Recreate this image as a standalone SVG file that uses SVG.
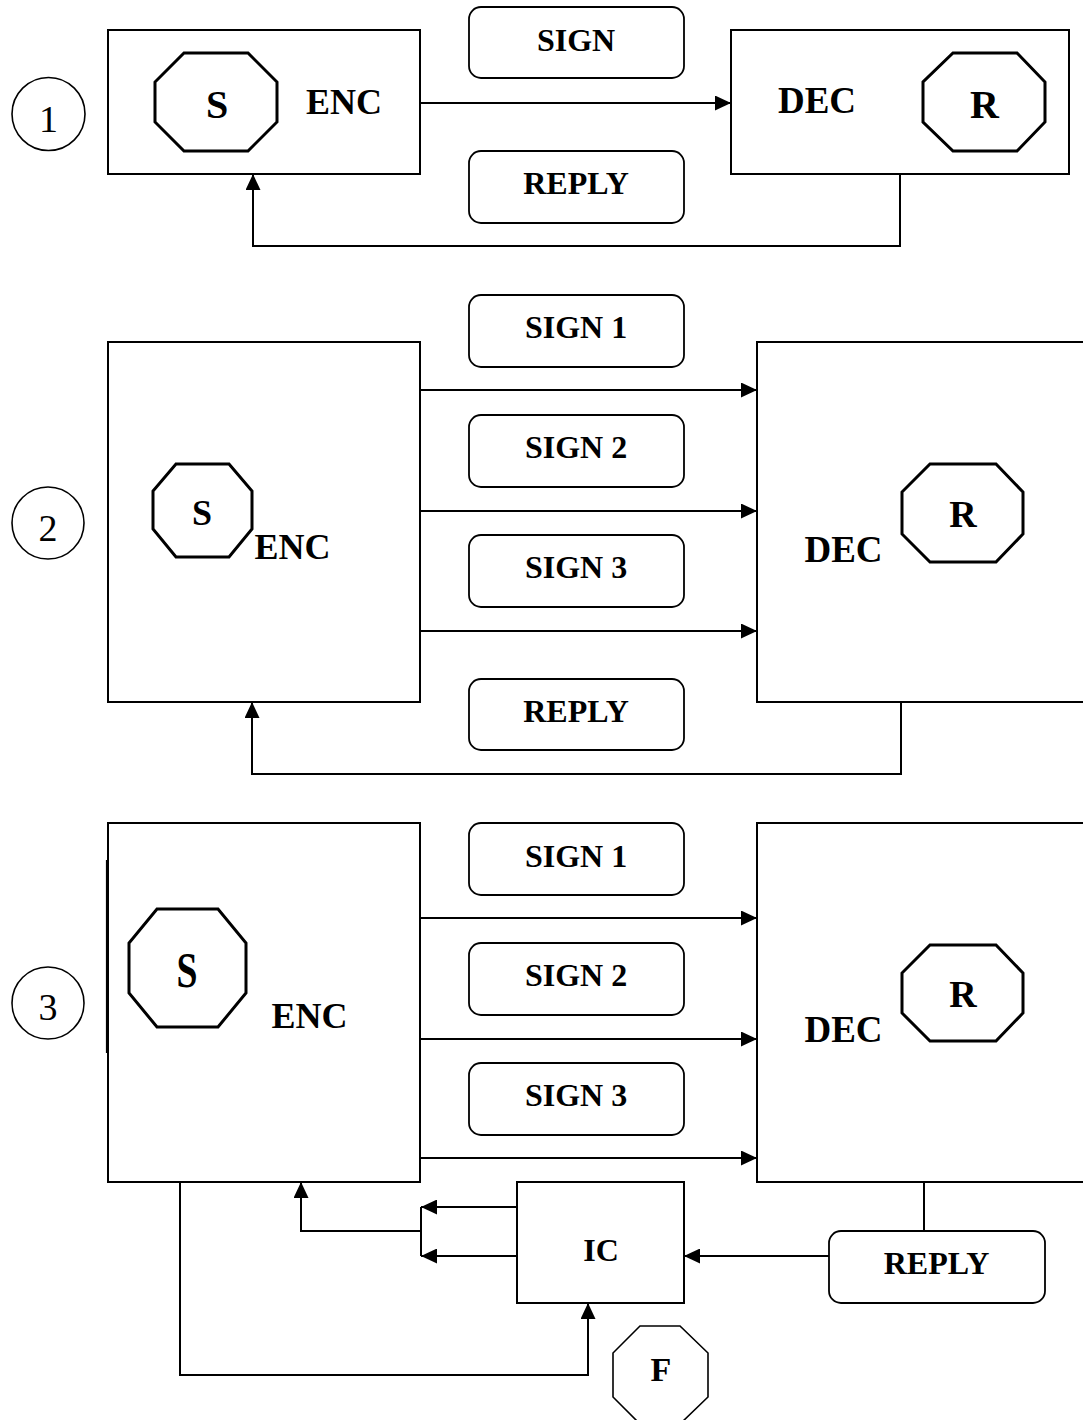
<svg xmlns="http://www.w3.org/2000/svg" width="1083" height="1420" viewBox="0 0 1083 1420">
  <style>
    .box { fill: #fff; stroke: #000; stroke-width: 2; }
    .pill { fill: #fff; stroke: #000; stroke-width: 1.8; }
    .oct { fill: #fff; stroke: #000; stroke-width: 3; stroke-linejoin: miter; }
    .octThin { fill: #fff; stroke: #000; stroke-width: 1.6; }
    .num { fill: #fff; stroke: #000; stroke-width: 1.6; }
    .wire { fill: none; stroke: #000; stroke-width: 2; }
    .lbl { font-family: "Liberation Serif", "Times New Roman", serif; font-weight: bold; fill: #000; text-anchor: middle; }
    .numtxt { font-family: "Liberation Serif", "Times New Roman", serif; font-weight: normal; fill: #000; text-anchor: middle; font-size: 38px; }
  </style>
  <defs>
    <marker id="arrow" markerUnits="userSpaceOnUse" markerWidth="16" markerHeight="15" refX="16" refY="7.5" orient="auto">
      <path d="M0,0 L16,7.5 L0,15 z" fill="#000"/>
    </marker>
  </defs>
  <rect width="1083" height="1420" fill="#fff"/>

  <!-- ===== Scheme 1 ===== -->
  <g id="label-1">
    <circle class="num" cx="48.5" cy="114" r="36.5"/>
    <text class="numtxt" x="48.5" y="132">1</text>
  </g>
  <g id="enc-1">
    <rect class="box" x="108" y="30" width="312" height="144"/>
    <polygon class="oct" points="184,53 248,53 277,82 277,122 248,151 184,151 155,122 155,82"/>
    <text class="lbl" x="217" y="118" font-size="40">S</text>
    <text class="lbl" x="344" y="114" font-size="36">ENC</text>
  </g>
  <g id="sign-1">
    <rect class="pill" x="469" y="7" width="215" height="71" rx="12"/>
    <text class="lbl" x="576" y="51" font-size="32">SIGN</text>
  </g>
  <g id="reply-1">
    <rect class="pill" x="469" y="151" width="215" height="72" rx="12"/>
    <text class="lbl" x="576" y="194" font-size="32">REPLY</text>
  </g>
  <g id="dec-1">
    <rect class="box" x="731" y="30" width="338" height="144"/>
    <text class="lbl" x="817" y="113" font-size="37">DEC</text>
    <polygon class="oct" points="953,53 1017,53 1045,82 1045,122 1017,151 953,151 923,122 923,82"/>
    <text class="lbl" x="984.5" y="118" font-size="40">R</text>
  </g>

  <!-- ===== Scheme 2 ===== -->
  <g id="label-2">
    <circle class="num" cx="48" cy="523" r="36"/>
    <text class="numtxt" x="48" y="541">2</text>
  </g>
  <g id="enc-2">
    <rect class="box" x="108" y="342" width="312" height="360"/>
    <polygon class="oct" points="176,464 229,464 252,491 252,529 229,557 176,557 153,529 153,491"/>
    <text class="lbl" x="202" y="525" font-size="36">S</text>
    <text class="lbl" x="292.5" y="559" font-size="36">ENC</text>
  </g>
  <g id="sign1-2">
    <rect class="pill" x="469" y="295" width="215" height="72" rx="12"/>
    <text class="lbl" x="576" y="338" font-size="32">SIGN 1</text>
  </g>
  <g id="sign2-2">
    <rect class="pill" x="469" y="415" width="215" height="72" rx="12"/>
    <text class="lbl" x="576" y="458" font-size="32">SIGN 2</text>
  </g>
  <g id="sign3-2">
    <rect class="pill" x="469" y="535" width="215" height="72" rx="12"/>
    <text class="lbl" x="576" y="578" font-size="32">SIGN 3</text>
  </g>
  <g id="reply-2">
    <rect class="pill" x="469" y="679" width="215" height="71" rx="12"/>
    <text class="lbl" x="576" y="722" font-size="32">REPLY</text>
  </g>
  <g id="dec-2">
    <rect class="box" x="757" y="342" width="340" height="360"/>
    <text class="lbl" x="843.5" y="562" font-size="37">DEC</text>
    <polygon class="oct" points="930,464 996,464 1023,492 1023,534 996,562 930,562 902,534 902,492"/>
    <text class="lbl" x="963" y="527" font-size="38">R</text>
  </g>

  <!-- ===== Scheme 3 ===== -->
  <g id="label-3">
    <circle class="num" cx="48" cy="1003" r="36"/>
    <text class="numtxt" x="48" y="1020">3</text>
  </g>
  <g id="enc-3">
    <rect class="box" x="108" y="823" width="312" height="359"/>
    <line x1="106.5" y1="860" x2="106.5" y2="1053" stroke="#000" stroke-width="1.2"/>
    <polygon class="oct" points="157,909 218,909 246,943 246,993 218,1027 157,1027 129,993 129,943"/>
    <text class="lbl" x="187" y="987" font-size="50" textLength="21" lengthAdjust="spacingAndGlyphs">S</text>
    <text class="lbl" x="309.5" y="1028" font-size="36">ENC</text>
  </g>
  <g id="sign1-3">
    <rect class="pill" x="469" y="823" width="215" height="72" rx="12"/>
    <text class="lbl" x="576" y="867" font-size="32">SIGN 1</text>
  </g>
  <g id="sign2-3">
    <rect class="pill" x="469" y="943" width="215" height="72" rx="12"/>
    <text class="lbl" x="576" y="986" font-size="32">SIGN 2</text>
  </g>
  <g id="sign3-3">
    <rect class="pill" x="469" y="1063" width="215" height="72" rx="12"/>
    <text class="lbl" x="576" y="1106" font-size="32">SIGN 3</text>
  </g>
  <g id="dec-3">
    <rect class="box" x="757" y="823" width="340" height="359"/>
    <text class="lbl" x="843.5" y="1042" font-size="37">DEC</text>
    <polygon class="oct" points="930,945 996,945 1023,973 1023,1013 996,1041 930,1041 902,1013 902,973"/>
    <text class="lbl" x="963" y="1007" font-size="38">R</text>
  </g>
  <g id="ic-3">
    <rect class="box" x="517" y="1182" width="167" height="121"/>
    <text class="lbl" x="601" y="1261" font-size="32">IC</text>
  </g>
  <g id="reply-3">
    <rect class="pill" x="829" y="1231" width="216" height="72" rx="12"/>
    <text class="lbl" x="936.5" y="1274" font-size="32">REPLY</text>
  </g>
  <g id="f-3">
    <polygon class="octThin" points="640,1326 680,1326 708,1353 708,1397 680,1424 640,1424 613,1397 613,1353"/>
    <text class="lbl" x="661" y="1381" font-size="34">F</text>
  </g>

  <!-- ===== Connectors ===== -->
  <g id="connectors" class="wire">
    <!-- scheme 1 -->
    <line x1="420" y1="103" x2="731" y2="103" marker-end="url(#arrow)"/>
    <path d="M900,174 V246 H253 V174" marker-end="url(#arrow)"/>
    <!-- scheme 2 -->
    <line x1="420" y1="390" x2="757" y2="390" marker-end="url(#arrow)"/>
    <line x1="420" y1="511" x2="757" y2="511" marker-end="url(#arrow)"/>
    <line x1="420" y1="631" x2="757" y2="631" marker-end="url(#arrow)"/>
    <path d="M901,702 V774 H252 V702" marker-end="url(#arrow)"/>
    <!-- scheme 3 -->
    <line x1="420" y1="918" x2="757" y2="918" marker-end="url(#arrow)"/>
    <line x1="420" y1="1039" x2="757" y2="1039" marker-end="url(#arrow)"/>
    <line x1="420" y1="1158" x2="757" y2="1158" marker-end="url(#arrow)"/>
    <line x1="924" y1="1182" x2="924" y2="1231"/>
    <line x1="829" y1="1256" x2="684" y2="1256" marker-end="url(#arrow)"/>
    <line x1="517" y1="1207" x2="421" y2="1207" marker-end="url(#arrow)"/>
    <line x1="517" y1="1256" x2="421" y2="1256" marker-end="url(#arrow)"/>
    <line x1="421" y1="1207" x2="421" y2="1256"/>
    <path d="M421,1231 H301 V1182" marker-end="url(#arrow)"/>
    <path d="M180,1182 V1375 H588 V1303" marker-end="url(#arrow)"/>
  </g>
</svg>
